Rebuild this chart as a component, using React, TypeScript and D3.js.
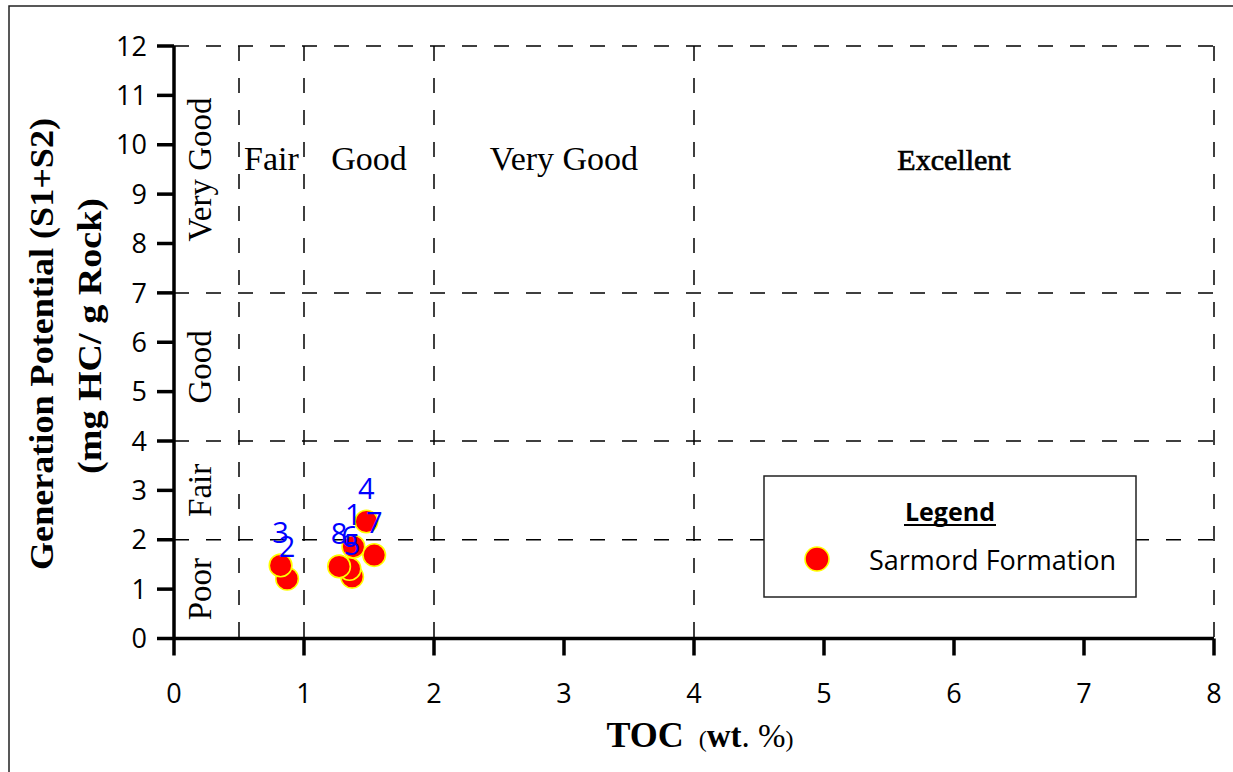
import React from 'react';
import * as d3 from 'd3';

// ---- data ----
const sampleIds = ['1', '2', '3', '4', '5', '6', '7', '8'];
const tocValues = [1.38, 0.87, 0.82, 1.48, 1.37, 1.35, 1.54, 1.27];
const genPotValues = [1.86, 1.21, 1.48, 2.37, 1.25, 1.41, 1.69, 1.46];
const xTicks = [0, 1, 2, 3, 4, 5, 6, 7, 8];
const yTicks = [0, 1, 2, 3, 4, 5, 6, 7, 8, 9, 10, 11, 12];
const tocZoneBounds = [0.5, 1, 2, 4, 8];
const tocZoneLabels = ['Fair', 'Good', 'Very Good', 'Excellent'];
const genZoneBounds = [0, 2, 4, 7, 12];
const genZoneLabels = ['Poor', 'Fair', 'Good', 'Very Good'];
const seriesName = 'Sarmord Formation';

const W = 1233;
const H = 772;
const SERIF = '"Liberation Serif", "Times New Roman", serif';
const SANS = '"Open Sans", "Liberation Sans", sans-serif';

export default function App() {
  const x = d3.scaleLinear().domain([0, 8]).range([174, 1214]);
  const y = d3.scaleLinear().domain([0, 12]).range([638.5, 46]);
  const dash = '15,17';

  return (
    <svg width={W} height={H} viewBox={`0 0 ${W} ${H}`}
      style={{ position: 'absolute', left: 0, top: 0, background: '#fff' }}>
      <rect x={0} y={0} width={W} height={H} fill="#fff" />
      {/* outer frame */}
      <rect x={9} y={6} width={W + 20} height={H + 20} fill="none" stroke="#222" strokeWidth={1.5} />

      {/* dashed boundaries */}
      {tocZoneBounds.map((b) => (
        <line key={'vx' + b} x1={x(b)} x2={x(b)} y1={y(12)} y2={y(0)}
          stroke="#000" strokeWidth={1.5} strokeDasharray={dash} />
      ))}
      {genZoneBounds.filter((b) => b > 0).map((b) => (
        <line key={'hy' + b} x1={x(0)} x2={x(8)} y1={y(b)} y2={y(b)}
          stroke="#000" strokeWidth={1.5} strokeDasharray={dash} />
      ))}

      {/* zone labels along top */}
      {tocZoneLabels.map((lab, i) => {
        const mid = (tocZoneBounds[i] + tocZoneBounds[i + 1]) / 2;
        const isExc = lab === 'Excellent';
        return (
          <text key={'tz' + i} x={x(mid)} y={170} textAnchor="middle"
            fontFamily={SERIF} fontSize={isExc ? 30 : 34} fill="#000"
            stroke={isExc ? '#000' : 'none'} strokeWidth={isExc ? 0.7 : 0}>
            {lab}
          </text>
        );
      })}

      {/* zone labels along left (rotated) */}
      {genZoneLabels.map((lab, i) => {
        const mid = (genZoneBounds[i] + genZoneBounds[i + 1]) / 2;
        return (
          <text key={'gz' + i} transform={`translate(211,${y(mid)}) rotate(-90)`}
            textAnchor="middle" fontFamily={SERIF} fontSize={33} fill="#000">
            {lab}
          </text>
        );
      })}

      {/* axes */}
      <line x1={x(0)} x2={x(8)} y1={y(0)} y2={y(0)} stroke="#000" strokeWidth={3.5} />
      <line x1={x(0)} x2={x(0)} y1={y(12)} y2={y(0)} stroke="#000" strokeWidth={3.5} />
      {yTicks.map((t) => (
        <g key={'yt' + t}>
          <line x1={x(0) - 17} x2={x(0)} y1={y(t)} y2={y(t)} stroke="#000" strokeWidth={3.5} />
          <text x={147} y={y(t)} dy="0.36em" textAnchor="end" fontFamily={SANS} fontSize={27} fill="#000">
            {t}
          </text>
        </g>
      ))}
      {xTicks.map((t) => (
        <g key={'xt' + t}>
          <line x1={x(t)} x2={x(t)} y1={y(0)} y2={y(0) + 17} stroke="#000" strokeWidth={3.5} />
          <text x={x(t)} y={703} textAnchor="middle" fontFamily={SANS} fontSize={27} fill="#000">
            {t}
          </text>
        </g>
      ))}

      {/* axis titles */}
      <text transform="translate(53,344) rotate(-90)" textAnchor="middle" fontFamily={SERIF}
        fontWeight="bold" fontSize={33} textLength={452} lengthAdjust="spacingAndGlyphs">
        Generation Potential (S1+S2)
      </text>
      <text transform="translate(101,336) rotate(-90)" textAnchor="middle" fontFamily={SERIF}
        fontWeight="bold" fontSize={33} textLength={276} lengthAdjust="spacingAndGlyphs">
        (mg HC/ g Rock)
      </text>
      <text x={700} y={747} textAnchor="middle" fontFamily={SERIF} fill="#000">
        <tspan fontWeight="bold" fontSize={36}>TOC </tspan>
        <tspan fontSize={24} dx={6}>(</tspan>
        <tspan fontWeight="bold" fontSize={33}>wt</tspan>
        <tspan fontSize={33}>. %</tspan>
        <tspan fontSize={24}>)</tspan>
      </text>

      {/* points */}
      {tocValues.map((v, i) => (
        <circle key={'p' + i} cx={x(v)} cy={y(genPotValues[i])} r={11.3}
          fill="#ff0000" stroke="#ffff00" strokeWidth={1.6} />
      ))}
      {tocValues.map((v, i) => (
        <text key={'l' + i} x={x(v)} y={y(genPotValues[i]) - 22} textAnchor="middle"
          fontFamily={SANS} fontSize={29} fill="#0000ff">
          {sampleIds[i]}
        </text>
      ))}

      {/* legend */}
      <rect x={764} y={476} width={372} height={121} fill="#fff" stroke="#222" strokeWidth={1.5} />
      <text x={950} y={521} textAnchor="middle" fontFamily={SANS} fontWeight="bold" fontSize={25}
        fill="#000">
        Legend
      </text>
      <line x1={904} x2={996} y1={525} y2={525} stroke="#000" strokeWidth={1.8} />
      <circle cx={817} cy={559} r={12} fill="#ff0000" stroke="#ffff00" strokeWidth={1.6} />
      <text x={869} y={570} fontFamily={SANS} fontSize={27} fill="#000">
        {seriesName}
      </text>
    </svg>
  );
}
